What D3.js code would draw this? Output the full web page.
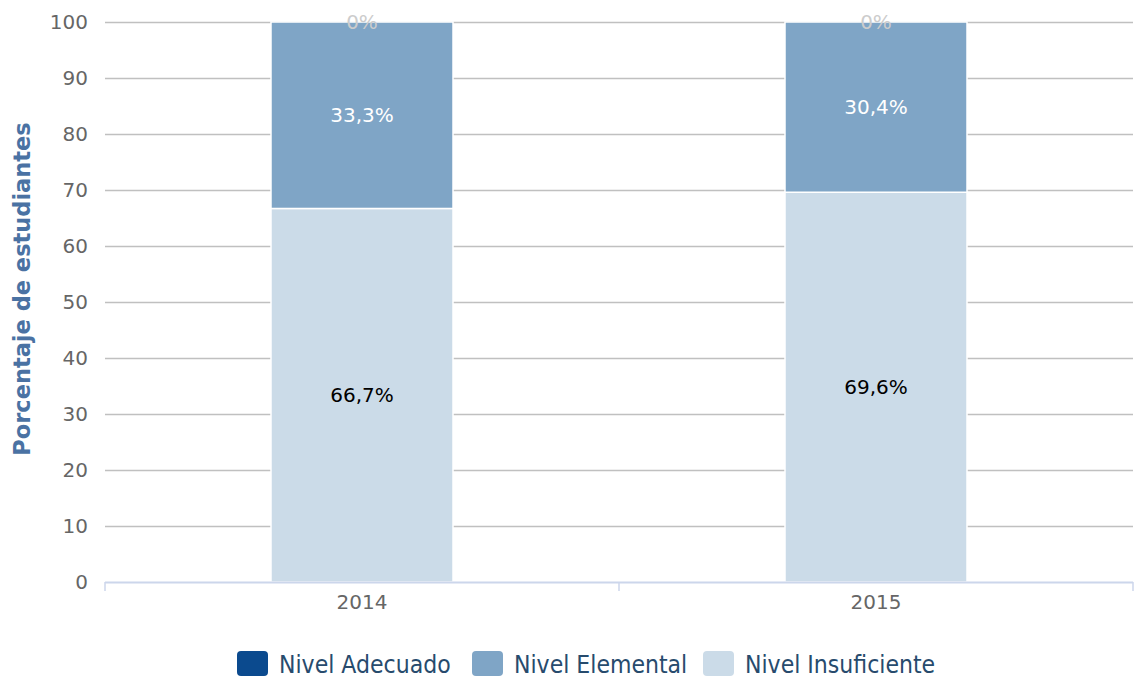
<!DOCTYPE html>
<html>
<head>
<meta charset="utf-8">
<script src="https://cdnjs.cloudflare.com/ajax/libs/d3/7.8.5/d3.min.js"></script>
<style>
  body { margin: 0; background: #fff; }
  svg { display: block; font-family: "DejaVu Sans", sans-serif; }
</style>
</head>
<body>
<svg id="chart" width="1139" height="683"></svg>
<script>
// data
var years = ["2014", "2015"];
var series = ["Nivel Insuficiente", "Nivel Elemental", "Nivel Adecuado"];
var insuficiente = [66.7, 69.6];
var elemental = [33.3, 30.4];
var adecuado = [0, 0];
var yTicks = [0, 10, 20, 30, 40, 50, 60, 70, 80, 90, 100];
var legendOrder = ["Nivel Adecuado", "Nivel Elemental", "Nivel Insuficiente"];

var colors = {
    "Nivel Adecuado": "#0b4a8e",
    "Nivel Elemental": "#7fa5c6",
    "Nivel Insuficiente": "#cbdbe8"
};
var labelColors = {
    "Nivel Adecuado": "#cccccc",
    "Nivel Elemental": "#ffffff",
    "Nivel Insuficiente": "#000000"
};

var svg = d3.select("#chart");
// plot area
var pLeft = 105, pRight = 1133, pTop = 22, pBottom = 582;

var x = d3.scaleBand().domain(years).range([pLeft, pRight]).padding(0);
var y = d3.scaleLinear().domain([0, 100]).range([pBottom, pTop]);
var barW = 182;

// rows for stacking
var rows = years.map(function(yr, i) {
    return {
        year: yr,
        "Nivel Insuficiente": insuficiente[i],
        "Nivel Elemental": elemental[i],
        "Nivel Adecuado": adecuado[i]
    };
});
var stacked = d3.stack().keys(series)(rows);

// gridlines
svg.append("g").selectAll("line")
    .data(yTicks.filter(function(d) { return d > 0; }))
    .enter().append("line")
    .attr("x1", pLeft).attr("x2", pRight)
    .attr("y1", function(d) { return Math.round(y(d)) + 0.5; })
    .attr("y2", function(d) { return Math.round(y(d)) + 0.5; })
    .attr("stroke", "#c0c0c0")
    .attr("stroke-width", 1.4);

// y axis labels
var yAxis = d3.axisLeft(y).tickValues(yTicks).tickSize(0).tickPadding(17);
var gy = svg.append("g")
    .attr("transform", "translate(" + pLeft + ",0)")
    .call(yAxis);
gy.select(".domain").remove();
gy.selectAll("text")
    .attr("font-size", 20)
    .attr("font-family", "DejaVu Sans")
    .attr("dy", "0.3em")
    .attr("fill", "#666666");

// y axis title
svg.append("text")
    .attr("transform", "translate(30," + 289 + ") rotate(-90)")
    .attr("text-anchor", "middle")
    .attr("font-size", 22.5)
    .attr("font-weight", "bold")
    .attr("fill", "#4a72a3")
    .text("Porcentaje de estudiantes");

// bars
var layers = svg.append("g").selectAll("g")
    .data(stacked)
    .enter().append("g")
    .attr("fill", function(d) { return colors[d.key]; });

layers.selectAll("rect")
    .data(function(d) { return d; })
    .enter().append("rect")
    .attr("x", function(d) { return x(d.data.year) + (x.bandwidth() - barW) / 2; })
    .attr("y", function(d) { return y(d[1]); })
    .attr("width", barW)
    .attr("height", function(d) { return y(d[0]) - y(d[1]); })
    .attr("stroke", "#ffffff")
    .attr("stroke-width", 1.5);

// x axis
var xAxis = d3.axisBottom(x).tickSize(0).tickPadding(13);
var gx = svg.append("g")
    .attr("transform", "translate(0," + pBottom + ")")
    .call(xAxis);
gx.select(".domain").remove();
gx.selectAll("text")
    .attr("font-size", 20)
    .attr("font-family", "DejaVu Sans")
    .attr("fill", "#666666");

svg.append("line")
    .attr("x1", pLeft).attr("x2", pRight)
    .attr("y1", pBottom + 0.5).attr("y2", pBottom + 0.5)
    .attr("stroke", "#ccd6eb").attr("stroke-width", 2);
var xTickPos = [pLeft, pLeft + x.step(), pRight];
svg.append("g").selectAll("line")
    .data(xTickPos)
    .enter().append("line")
    .attr("x1", function(d) { return d; }).attr("x2", function(d) { return d; })
    .attr("y1", pBottom).attr("y2", pBottom + 9)
    .attr("stroke", "#ccd6eb").attr("stroke-width", 1.5);

// data labels
stacked.forEach(function(layer) {
    svg.append("g").selectAll("text")
        .data(layer)
        .enter().append("text")
        .attr("x", function(d) { return x(d.data.year) + x.bandwidth() / 2; })
        .attr("y", function(d) { return y((d[0] + d[1]) / 2); })
        .attr("dy", "0.36em")
        .attr("text-anchor", "middle")
        .attr("font-size", 20)
        .attr("fill", labelColors[layer.key])
        .text(function(d) {
            var v = d[1] - d[0];
            return (v === 0 ? "0" : d3.format(".1f")(v).replace(".", ",")) + "%";
        });
});

// legend
var legend = svg.append("g").attr("transform", "translate(237,651)");
var offsets = [0, 235, 466];
legendOrder.forEach(function(name, i) {
    var g = legend.append("g").attr("transform", "translate(" + offsets[i] + ",0)");
    g.append("rect")
        .attr("width", 31).attr("height", 25)
        .attr("rx", 4).attr("ry", 4)
        .attr("fill", colors[name]);
    g.append("text")
        .attr("x", 42).attr("y", 22)
        .attr("font-size", 24.5)
        .attr("font-family", "DejaVu Sans Condensed")
        .attr("fill", "#274b6d")
        .text(name);
});
</script>
</body>
</html>
